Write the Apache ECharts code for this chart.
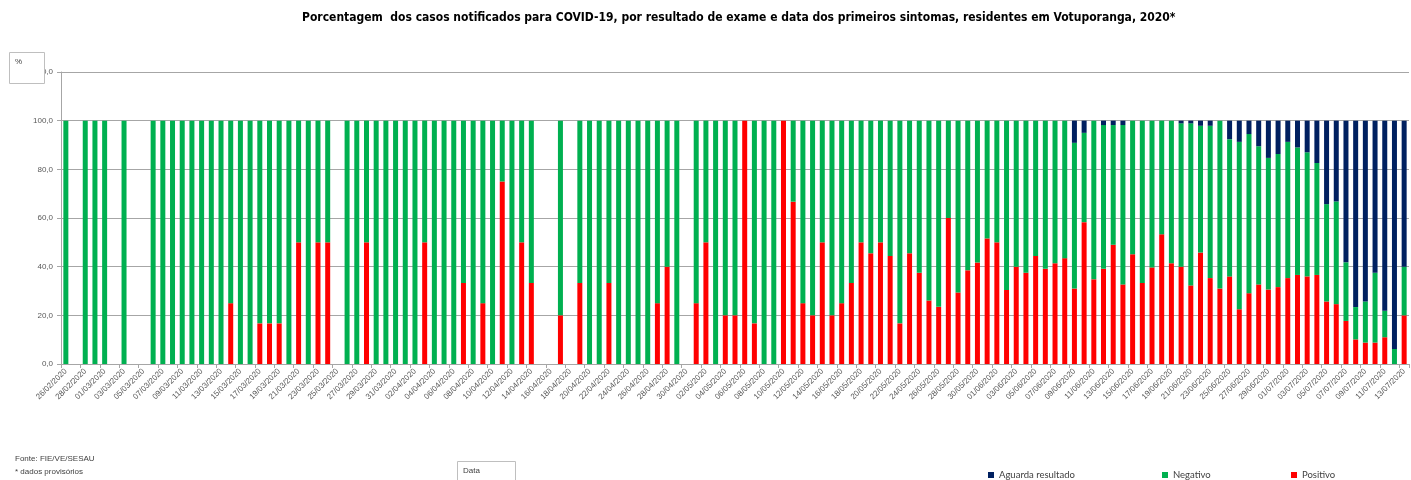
<!DOCTYPE html>
<html><head><meta charset="utf-8">
<script src="https://cdn.jsdelivr.net/npm/echarts@6/dist/echarts.min.js"></script>
<style>html,body{margin:0;padding:0;background:#fff}#c{width:1411px;height:480px}</style>
</head><body><div id="c"></div>
<script>
// Categories: daily dates 26/02/2020 .. 13/07/2020
var categories = [];
(function(){
  var d = new Date(2020, 1, 26);
  var end = new Date(2020, 6, 13);
  while (d <= end) {
    var dd = ('0' + d.getDate()).slice(-2), mm = ('0' + (d.getMonth() + 1)).slice(-2);
    categories.push(dd + '/' + mm + '/2020');
    d.setDate(d.getDate() + 1);
  }
})();

var yTicks = [0, 20, 40, 60, 80, 100, 120];

var positivo = [
  0,null,0,0,0,null,0,null,null,0, 0,0,0,0,0,0,0,25,0,0,
  16.7,16.7,16.7,0,50,0,50,50,null,0, 0,50,0,0,0,0,0,50,0,0,
  0,33.3,0,25,0,75,0,50,33.3,null, null,20,null,33.3,0,0,33.3,0,0,0,
  0,25,40,0,null,25,50,0,20,20, 100,16.7,0,0,100,66.7,25,20,50,20,
  25,33.3,50,45.5,50,44.4,16.7,45.5,37.5,26.1, 23.5,60,29.4,38.5,41.7,51.6,50,30.4,40,37.5,
  44.4,39.1,41.4,43.5,31.0,58.3,34.8,39.1,49.0,32.7, 45.1,33.3,39.7,53.3,41.4,40.0,32.3,45.8,35.3,31.0,
  36.0,22.5,29.1,32.7,30.6,31.6,35.3,36.6,36.0,36.6, 25.7,24.6,17.7,10.1,8.8,8.8,11.0,0,20
];

var negativo = [
  100,null,100,100,100,null,100,null,null,100, 100,100,100,100,100,100,100,75,100,100,
  83.3,83.3,83.3,100,50,100,50,50,null,100, 100,50,100,100,100,100,100,50,100,100,
  100,66.7,100,75,100,25,100,50,66.7,null, null,80,null,66.7,100,100,66.7,100,100,100,
  100,75,60,100,null,75,50,100,80,80, 0,83.3,100,100,0,33.3,75,80,50,80,
  75,66.7,50,54.5,50,55.6,83.3,54.5,62.5,73.9, 76.5,40,70.6,61.5,58.3,48.4,50,69.6,60,62.5,
  55.6,60.9,58.6,56.5,59.9,36.7,65.2,59.1,49.2,65.5, 54.9,66.7,60.3,46.7,58.6,58.9,66.6,52.1,62.6,69.0,
  56.4,68.8,65.4,56.8,54.1,54.7,56.0,52.4,51.0,46.0, 40.0,42.2,24.1,13.3,16.9,28.7,10.9,6.2,20
];

var aguarda = [
  0,null,0,0,0,null,0,null,null,0, 0,0,0,0,0,0,0,0,0,0,
  0,0,0,0,0,0,0,0,null,0, 0,0,0,0,0,0,0,0,0,0,
  0,0,0,0,0,0,0,0,0,null, null,0,null,0,0,0,0,0,0,0,
  0,0,0,0,null,0,0,0,0,0, 0,0,0,0,0,0,0,0,0,0,
  0,0,0,0,0,0,0,0,0,0, 0,0,0,0,0,0,0,0,0,0,
  0,0,0,0,9.1,5.0,0,1.8,1.8,1.8, 0,0,0,0,0,1.1,1.1,2.1,2.1,0,
  7.6,8.7,5.5,10.5,15.3,13.7,8.7,11.0,13.0,17.4, 34.3,33.2,58.2,76.6,74.3,62.5,78.1,93.8,60
];

var chart = echarts.init(document.getElementById('c'), null, {renderer: 'canvas'});
var legendCommon = {
  orient: 'horizontal', icon: 'rect', itemWidth: 6, itemHeight: 6, selectedMode: false,
  textStyle: {fontFamily: 'Lato, Liberation Sans, sans-serif', fontSize: 9.5, color: '#404040'}
};
chart.setOption({
  animation: false,
  backgroundColor: '#ffffff',
  title: {
    text: 'Porcentagem  dos casos notificados para COVID-19, por resultado de exame e data dos primeiros sintomas, residentes em Votuporanga, 2020*',
    left: 297, top: 7,
    textStyle: {fontFamily: 'Liberation Sans Narrow, DejaVu Sans Condensed, Liberation Sans, sans-serif', fontSize: 12, fontWeight: 'bold', color: '#000'}
  },
  legend: [
    Object.assign({data: ['Aguarda resultado'], left: 983, top: 465}, legendCommon),
    Object.assign({data: ['Negativo'], left: 1157, top: 465}, legendCommon),
    Object.assign({data: ['Positivo'], left: 1286, top: 465}, legendCommon)
  ],
  grid: {left: 61, right: 2, top: 72, bottom: 116, containLabel: false},
  xAxis: {
    type: 'category', data: categories, boundaryGap: true,
    axisLine: {lineStyle: {color: '#a6a6a6', width: 1}},
    axisTick: {show: true, interval: 1, length: 4, lineStyle: {color: '#a6a6a6'}},
    axisLabel: {interval: 1, rotate: 45, fontSize: 8, color: '#595959', margin: 6, fontFamily: 'Liberation Sans, sans-serif'},
    splitLine: {show: false}
  },
  yAxis: {
    type: 'value', min: yTicks[0], max: yTicks[yTicks.length - 1], interval: 20,
    axisLine: {show: true, lineStyle: {color: '#a6a6a6', width: 1}},
    axisTick: {show: true, length: 4, lineStyle: {color: '#a6a6a6'}},
    axisLabel: {fontSize: 8, color: '#595959', margin: 8, fontFamily: 'Liberation Sans, sans-serif',
      formatter: function (v) { return v.toFixed(1).replace('.', ','); }},
    splitLine: {show: true, lineStyle: {color: '#a6a6a6', width: 1}}
  },
  series: [
    {name: 'Positivo', type: 'bar', stack: 'a', data: positivo, barWidth: 5, itemStyle: {color: '#ff0000'}},
    {name: 'Negativo', type: 'bar', stack: 'a', data: negativo, barWidth: 5, itemStyle: {color: '#00b050'}},
    {name: 'Aguarda resultado', type: 'bar', stack: 'a', data: aguarda, barWidth: 5, itemStyle: {color: '#002060'}}
  ],
  graphic: [
    {type: 'rect', z: 100, shape: {x: 9.5, y: 52.5, width: 35, height: 31}, style: {fill: '#fff', stroke: '#bfbfbf', lineWidth: 1}},
    {type: 'text', z: 101, style: {x: 15, y: 58, text: '%', fontSize: 8, fill: '#404040', fontFamily: 'Liberation Sans, sans-serif'}},
    {type: 'text', z: 101, style: {x: 15, y: 455, text: 'Fonte: FIE/VE/SESAU', fontSize: 8, fill: '#404040', fontFamily: 'Liberation Sans, sans-serif'}},
    {type: 'text', z: 101, style: {x: 15, y: 468, text: '* dados provisórios', fontSize: 8, fill: '#404040', fontFamily: 'Liberation Sans, sans-serif'}},
    {type: 'rect', z: 100, shape: {x: 457.5, y: 461.5, width: 58, height: 25}, style: {fill: '#fff', stroke: '#bfbfbf', lineWidth: 1}},
    {type: 'text', z: 101, style: {x: 463, y: 467, text: 'Data', fontSize: 8, fill: '#404040', fontFamily: 'Liberation Sans, sans-serif'}}
  ]
});
</script></body></html>
